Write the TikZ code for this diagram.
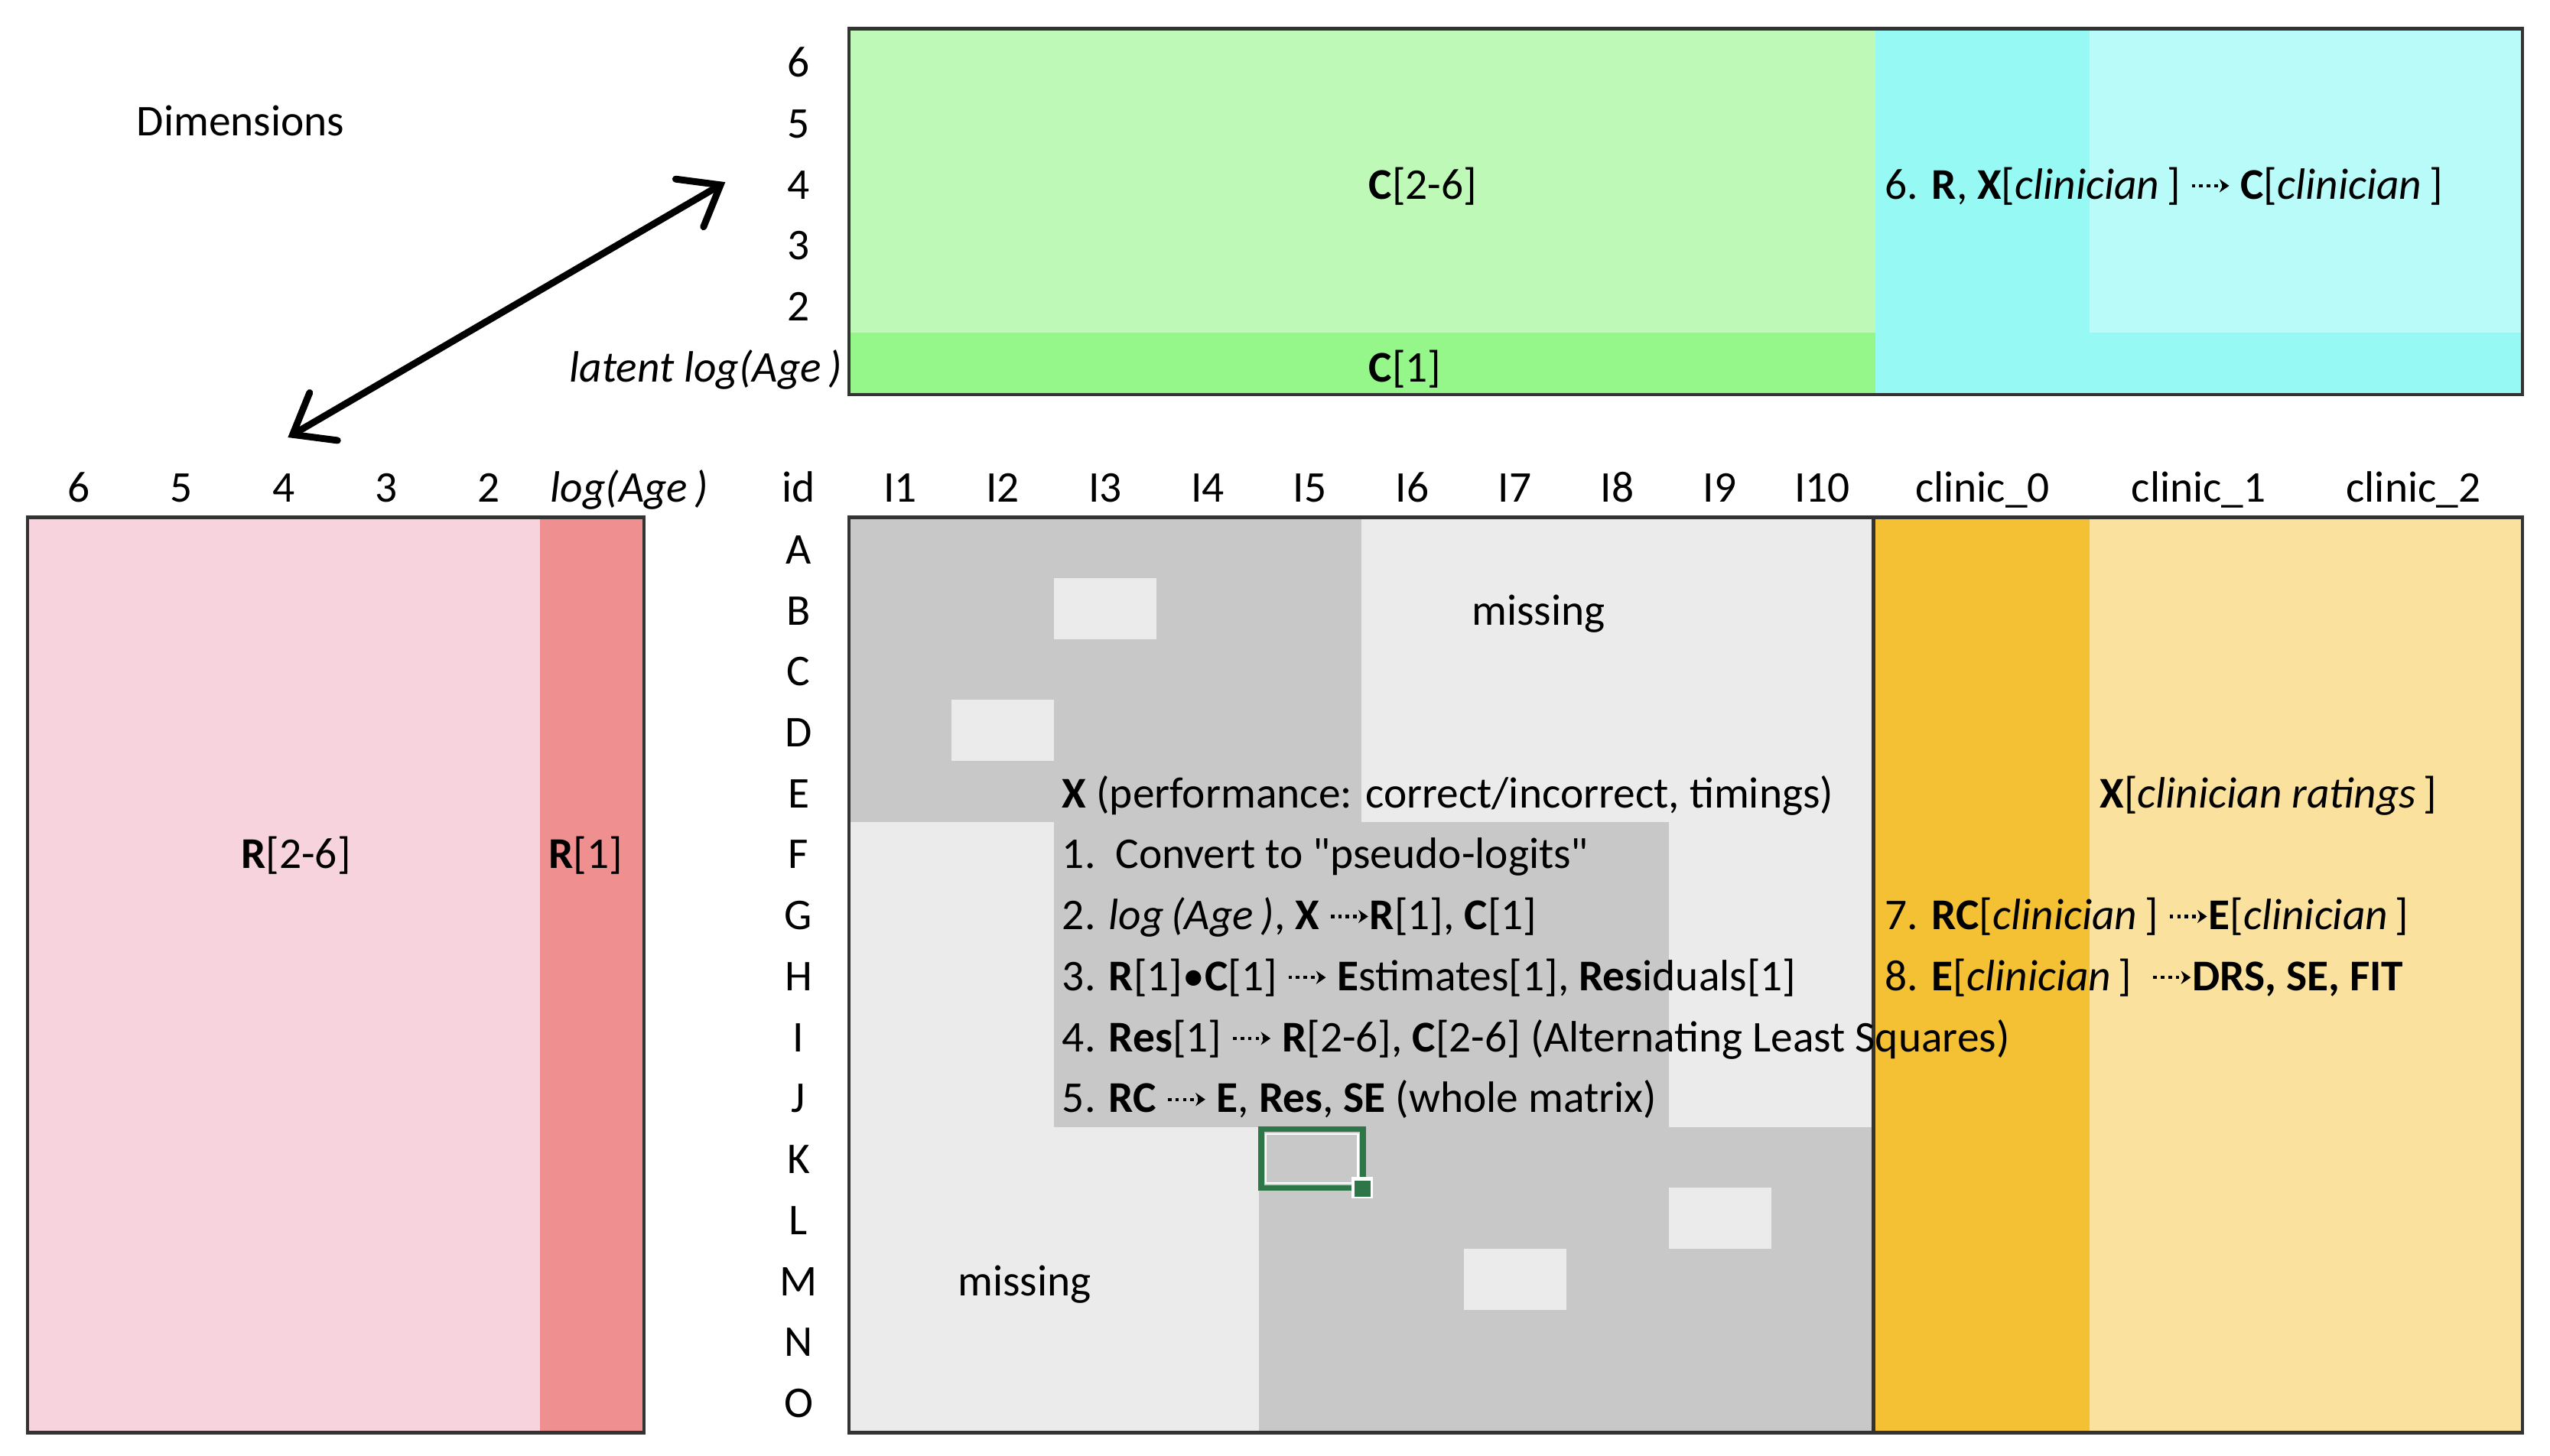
\documentclass[tikz,border=0pt]{standalone}
\usepackage{fontspec}
\setmainfont{Carlito}
\newfontfamily\qfont{Carlito}[Ligatures=TeXOff]
\usetikzlibrary{arrows.meta}
\definecolor{gLight}{HTML}{BEF9B8}
\definecolor{gDark}{HTML}{95F68A}
\definecolor{cDark}{HTML}{97F9F4}
\definecolor{cLight}{HTML}{B8FBF8}
\definecolor{pLight}{HTML}{F7D3DD}
\definecolor{pDark}{HTML}{F08F90}
\definecolor{grDark}{HTML}{C8C8C8}
\definecolor{grLight}{HTML}{EBEBEB}
\definecolor{oDark}{HTML}{F4C034}
\definecolor{oLight}{HTML}{FAE29E}
\definecolor{selGreen}{HTML}{2E7547}
\definecolor{frameCol}{HTML}{333333}
\newcommand{\darr}{\tikz[baseline=0pt]\draw[line width=0.07em,dash pattern=on 0.08em off 0.09em,-{Stealth[length=0.22em,width=0.3em]}] (0,0.3em)--(0.85em,0.3em);}
\newcommand{\sq}{{\qfont\char34}}
\tikzset{
  lbl/.style={anchor=base, inner sep=0pt},
  lblw/.style={anchor=base west, inner sep=0pt},
  lble/.style={anchor=base east, inner sep=0pt},
  frm/.style={draw=frameCol, line width=2.2pt},
  dimarrow/.style={line width=4.2pt, line cap=round, {Straight Barb[length=22pt,width=34pt,line cap=round]}-{Straight Barb[length=22pt,width=34pt,line cap=round]}},
}
\begin{document}
\begin{tikzpicture}[x=1pt,y=-1pt, every node/.style={font=\fontsize{27}{32}\selectfont}]
\useasboundingbox (0,0) rectangle (1568,895);
% ---------- top box ----------
\fill[gLight] (522,17.6) rectangle (1153,204.5);
\fill[gDark] (522,204.5) rectangle (1153,242.6);
\fill[cDark] (1153,17.6) rectangle (1551,242.6);
\fill[cLight] (1285,17.6) rectangle (1551,204.5);
\draw[frm] (522,17.6) rectangle (1551,242.6);
% ---------- left box ----------
\fill[pLight] (17,318) rectangle (332,881);
\fill[pDark] (332,318) rectangle (396,881);
\draw[frm] (17,318) rectangle (396,881);
% ---------- main grid ----------
\fill[grLight] (522,318) rectangle (1152,881);
\fill[grDark] (522,318) rectangle (837,505.5);
\fill[grDark] (648,505.5) rectangle (1026,693);
\fill[grDark] (774,693) rectangle (1152,881);
\fill[grLight] (648,355.5) rectangle (711,393);
\fill[grLight] (585,430.5) rectangle (648,468);
\fill[grLight] (1026,730.5) rectangle (1089,768);
\fill[grLight] (900,768) rectangle (963,805.5);
\fill[oDark] (1152,318) rectangle (1285,881);
\fill[oLight] (1285,318) rectangle (1551,881);
\draw[frm] (1152,318) -- (1152,881);
\draw[frm] (522,318) rectangle (1551,881);
% selected cell
\draw[selGreen, line width=3.5pt] (775.5,694.5) rectangle (838,730.5);
\draw[white, line width=1pt] (778.5,697.5) rectangle (835,727.5);
\fill[white] (831,724) rectangle (844,737);
\fill[selGreen] (833,726) rectangle (843,736);
% ---------- labels ----------
\node[lbl] (dims) at (148,83.6) {Dimensions};
\foreach \l [count=\i] in {6,5,4,3,2}
  \node[lbl] (tl\l) at (491,{9.85+37.5*\i}) {\l};
\node[lble] (tlAge) at (518,234.85) {\textit{latent log(Age\,)}};
\foreach \l [count=\i] in {6,5,4,3,2}
  \node[lbl] (lh\l) at ({17+63*(\i-0.5)},308.6) {\l};
\node[lbl] (lhAge) at (387,308.6) {\textit{log(Age\,)}};
\node[lbl] (idh) at (491,308.6) {id};
\foreach \l [count=\i] in {1,...,10}
  \node[lbl] (colI\l) at ({522+63*(\i-0.5)},308.6) {I\l};
\node[lbl] (cl0) at (1219,308.6) {clinic\_0};
\node[lbl] (cl1) at (1352,308.6) {clinic\_1};
\node[lbl] (cl2) at (1484,308.6) {clinic\_2};
\foreach \l [count=\i] in {A,B,C,D,E,F,G,H,I,J,K,L,M,N,O}
  \node[lbl] (row\l) at (491,{309.25+37.5*\i}) {\l};
% ---------- content texts ----------
\node[lbl] (C26) at (875,122.35) {\textbf{C}[2-6]};
\node[lbl] (C1) at (864,234.85) {\textbf{C}[1]};
\node[lblw] (step6) at (1159,122.35) {6. \textbf{R}, \textbf{X}[\textit{clinician}\,] \darr{} \textbf{C}[\textit{clinician}\,]};
\node[lbl] (R26) at (182,534.25) {\textbf{R}[2-6]};
\node[lbl] (R1) at (360,534.25) {\textbf{R}[1]};
\node[lbl] (miss1) at (946,384.25) {missing};
\node[lbl] (miss2) at (630,796.75) {missing};
\node[lblw] (xperf) at (653,496.75) {\textbf{X} (performance: correct/incorrect, timings)};
\node[lblw] (step1) at (653,534.25) {1.\ \ Convert to \sq pseudo-logits\sq};
\node[lblw] (step2) at (653,571.75) {2. \textit{log\,(Age\,)}, \textbf{X} \darr\textbf{R}[1], \textbf{C}[1]};
\node[lblw] (step3) at (653,609.25) {3. \textbf{R}[1]•\textbf{C}[1] \darr{} \textbf{E}stimates[1], \textbf{Res}iduals[1]};
\node[lblw] (step4) at (653,646.75) {4. \textbf{Res}[1] \darr{} \textbf{R}[2-6], \textbf{C}[2-6] (Alternating Least Squares)};
\node[lblw] (step5) at (653,684.25) {5. \textbf{RC} \darr{} \textbf{E}, \textbf{Res}, \textbf{SE} (whole matrix)};
\node[lblw] (xclin) at (1291,496.75) {\textbf{X}[\textit{clinician ratings}\,]};
\node[lblw] (step7) at (1159,571.75) {7. \textbf{RC}[\textit{clinician}\,] \darr\textbf{E}[\textit{clinician}\,]};
\node[lblw] (step8) at (1159,609.25) {8. \textbf{E}[\textit{clinician}\,]\ \ \darr\textbf{DRS, SE, FIT}};
% ---------- dimensions arrow ----------
\coordinate (arrTop) at (446,112);
\coordinate (arrBot) at (177,269);
\draw[dimarrow] (arrBot) -- (arrTop);
\end{tikzpicture}
\end{document}
